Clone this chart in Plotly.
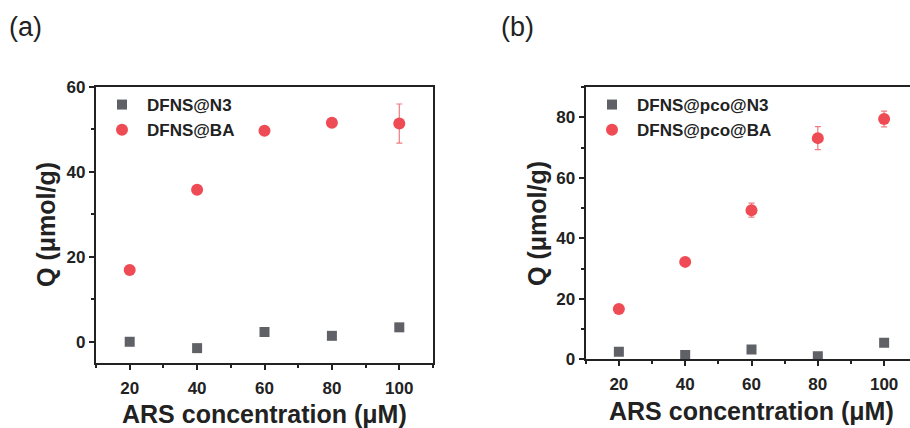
import plotly.graph_objects as go

conc = [20, 40, 60, 80, 100]

# Panel (a)
a_n3 = [0.0, -1.5, 2.3, 1.4, 3.4]
a_ba = [16.9, 35.8, 49.7, 51.6, 51.4]
a_ba_err = [0, 0, 0, 0, 4.6]

# Panel (b)
b_n3 = [2.5, 1.4, 3.2, 1.0, 5.5]
b_ba = [16.6, 32.2, 49.3, 73.1, 79.4]
b_ba_err = [0, 0, 2.3, 3.8, 2.6]

GRAY = "#5f6166"
RED = "#ef4b55"
FONT = "Arial, Liberation Sans, sans-serif"

fig = go.Figure()

fig.add_trace(go.Scatter(x=conc, y=a_n3, mode="markers", name="DFNS@N3",
                         marker=dict(symbol="square", size=10, color=GRAY),
                         xaxis="x", yaxis="y", legend="legend"))
fig.add_trace(go.Scatter(x=conc, y=a_ba, mode="markers", name="DFNS@BA",
                         marker=dict(symbol="circle", size=12, color=RED),
                         error_y=dict(type="data", array=a_ba_err, visible=True,
                                      color="#f27a80", thickness=1.2, width=3),
                         xaxis="x", yaxis="y", legend="legend"))
fig.add_trace(go.Scatter(x=conc, y=b_n3, mode="markers", name="DFNS@pco@N3",
                         marker=dict(symbol="square", size=10, color=GRAY),
                         xaxis="x2", yaxis="y2", legend="legend2"))
fig.add_trace(go.Scatter(x=conc, y=b_ba, mode="markers", name="DFNS@pco@BA",
                         marker=dict(symbol="circle", size=12, color=RED),
                         error_y=dict(type="data", array=b_ba_err, visible=True,
                                      color="#f27a80", thickness=1.2, width=3),
                         xaxis="x2", yaxis="y2", legend="legend2"))

W, H = 910, 428
def px_x(p):
    return p / W
def px_y(p):
    return 1 - p / H

tickfont = dict(family=FONT, size=17, color="#222222", weight="bold")
minor = dict(dtick=10, ticklen=3, tickwidth=1.5, tickcolor="#222222", ticks="outside")
common = dict(showline=True, linewidth=2.2, linecolor="#222222", ticks="outside",
              ticklen=5, tickwidth=1.5, tickcolor="#222222", showgrid=False,
              zeroline=False, tickfont=tickfont, automargin=False,
              tick0=0, dtick=20, minor=minor)

fig.update_layout(
    template="none",
    width=W, height=H, margin=dict(l=0, r=0, t=0, b=0, pad=0),
    autosize=False,
    plot_bgcolor="white", paper_bgcolor="white",
    xaxis=dict(domain=[px_x(96), px_x(433)], range=[10, 110], anchor="y",
               mirror=True, ticklabelstandoff=3, **common),
    yaxis=dict(domain=[px_y(363), px_y(87)], range=[-5, 60], anchor="x",
               mirror=True, **common),
    xaxis2=dict(domain=[px_x(585.7), 1.0], range=[10, 107.8], anchor="y2",
                mirror=True, ticklabelstandoff=3, **common),
    yaxis2=dict(domain=[px_y(359.3), px_y(87)], range=[0, 90], anchor="x2",
                mirror=False, **common),
    legend=dict(x=px_x(97), y=px_y(87), xanchor="left", yanchor="top",
                bgcolor="rgba(0,0,0,0)", font=dict(family=FONT, size=17, color="#222222", weight="bold"),
                itemwidth=40, tracegroupgap=0),
    legend2=dict(x=px_x(587), y=px_y(87), xanchor="left", yanchor="top",
                 bgcolor="rgba(0,0,0,0)", font=dict(family=FONT, size=17, color="#222222", weight="bold"),
                 itemwidth=40, tracegroupgap=0),
    showlegend=True,
)

ann_title = dict(family=FONT, size=25, color="#222222", weight="bold")
annotations = [
    dict(text="(a)", x=px_x(7), y=px_y(27), xref="paper", yref="paper", xanchor="left", yanchor="middle",
         showarrow=False, font=dict(family=FONT, size=27, color="#222222")),
    dict(text="(b)", x=px_x(499), y=px_y(27), xref="paper", yref="paper", xanchor="left", yanchor="middle",
         showarrow=False, font=dict(family=FONT, size=27, color="#222222")),
    dict(text="ARS concentration (μM)", x=px_x(264), y=px_y(414), xref="paper", yref="paper",
         xanchor="center", yanchor="middle", showarrow=False, font=ann_title),
    dict(text="ARS concentration (μM)", x=px_x(751), y=px_y(411), xref="paper", yref="paper",
         xanchor="center", yanchor="middle", showarrow=False, font=ann_title),
    dict(text="Q (μmol/g)", x=px_x(46), y=px_y(225), xref="paper", yref="paper", textangle=-90,
         xanchor="center", yanchor="middle", showarrow=False, font=ann_title),
    dict(text="Q (μmol/g)", x=px_x(537), y=px_y(224), xref="paper", yref="paper", textangle=-90,
         xanchor="center", yanchor="middle", showarrow=False, font=ann_title),
]
fig.update_layout(annotations=annotations)

fig.write_html("out.html")
